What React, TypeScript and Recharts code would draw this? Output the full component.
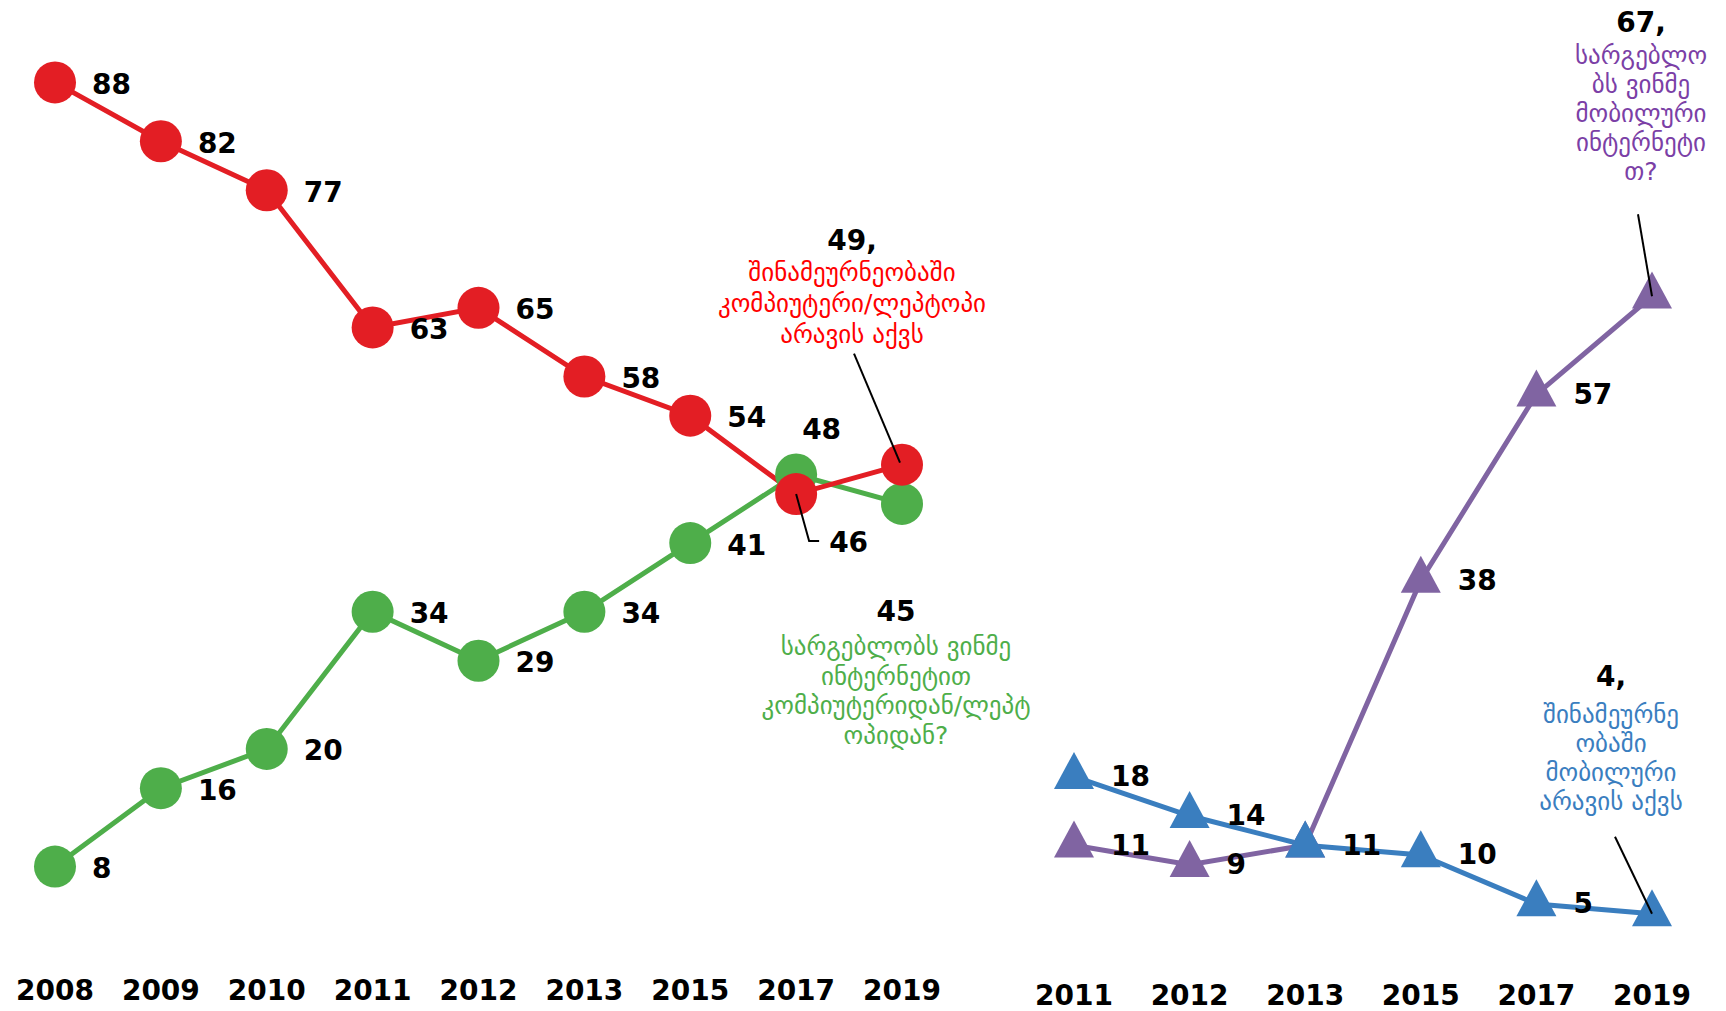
import React from 'react';
import { LineChart, Line, XAxis, YAxis, LabelList } from 'recharts';

const leftYears = ['2008', '2009', '2010', '2011', '2012', '2013', '2015', '2017', '2019'];
const noComputer = [88, 82, 77, 63, 65, 58, 54, 46, 49];
const computerInternet = [8, 16, 20, 34, 29, 34, 41, 48, 45];

const rightYears = ['2011', '2012', '2013', '2015', '2017', '2019'];
const noMobile = [18, 14, 11, 10, 5, 4];
const mobileInternet = [11, 9, 11, 38, 57, 67];

const redNote = ['შინამეურნეობაში', 'კომპიუტერი/ლეპტოპი', 'არავის აქვს'];
const greenNote = ['სარგებლობს ვინმე', 'ინტერნეტით', 'კომპიუტერიდან/ლეპტ', 'ოპიდან?'];
const purpleNote = ['სარგებლო', 'ბს ვინმე', 'მობილური', 'ინტერნეტი', 'თ?'];
const blueNote = ['შინამეურნე', 'ობაში', 'მობილური', 'არავის აქვს'];

const leftData = leftYears.map((year, i) => ({ year, red: noComputer[i], green: computerInternet[i] }));
const rightData = rightYears.map((year, i) => ({ year, blue: noMobile[i], purple: mobileInternet[i] }));

const RED = '#E31E24';
const GREEN = '#4EAE4A';
const BLUE = '#3A7EBF';
const PURPLE = '#8064A2';

const NUM_FONT = 'DejaVu Sans, sans-serif';
const GEO_FONT = 'DejaVu Sans, sans-serif';

const numStyle = { fontFamily: NUM_FONT, fontWeight: 700, fontSize: 28, fill: '#000' } as const;

const Num = ({ x, y, v, anchor = 'start' }: any) => (
  <text x={x} y={y} textAnchor={anchor} dominantBaseline="central" style={numStyle}>{v}</text>
);

const Note = ({ x, y, lines, color, step }: any) => (
  <g>
    {lines.map((t: string, i: number) => (
      <text key={i} x={x} y={y + i * step} textAnchor="middle" dominantBaseline="central"
        style={{ fontFamily: GEO_FONT, fontSize: 25, fill: color }}>{t}</text>
    ))}
  </g>
);

const circleDot = (color: string) => (p: any) => (
  <circle key={`c-${p.index}`} cx={p.cx} cy={p.cy} r={21} fill={color} />
);

const triDot = (color: string) => (p: any) => {
  const h = 37, w = 20;
  const pts = `${p.cx},${p.cy - (2 * h) / 3} ${p.cx + w},${p.cy + h / 3} ${p.cx - w},${p.cy + h / 3}`;
  return <polygon key={`t-${p.index}`} points={pts} fill={color} />;
};

const redLabel = (p: any) => {
  const { x, y, value, index } = p;
  if (index === leftYears.length - 2) {
    return (
      <g key={`rl-${index}`}>
        <polyline points={`${x},${y} ${x + 13},${y + 47} ${x + 23},${y + 47}`} fill="none" stroke="#000" strokeWidth={2} />
        <Num x={x + 33} y={y + 48} v={value} />
      </g>
    );
  }
  if (index === leftYears.length - 1) {
    return (
      <g key={`rl-${index}`}>
        <line x1={x - 48} y1={y - 111} x2={x - 2} y2={y - 2} stroke="#000" strokeWidth={2} />
        <Num x={x - 50} y={y - 224} v={`${value},`} anchor="middle" />
        <Note x={x - 50} y={y - 192} lines={redNote} color="#FF0000" step={31} />
      </g>
    );
  }
  return <Num key={`rl-${index}`} x={x + 37} y={y + 2} v={value} />;
};

const greenLabel = (p: any) => {
  const { x, y, value, index } = p;
  if (index === leftYears.length - 2) {
    return <Num key={`gl-${index}`} x={x + 6} y={y - 45} v={value} />;
  }
  if (index === leftYears.length - 1) {
    return (
      <g key={`gl-${index}`}>
        <Num x={x - 6} y={y + 108} v={value} anchor="middle" />
        <Note x={x - 6} y={y + 143} lines={greenNote} color={GREEN} step={29.5} />
      </g>
    );
  }
  return <Num key={`gl-${index}`} x={x + 37} y={y + 2} v={value} />;
};

const blueLabel = (p: any) => {
  const { x, y, value, index } = p;
  if (index === rightYears.length - 1) {
    return (
      <g key={`bl-${index}`}>
        <line x1={x - 37} y1={y - 77} x2={x} y2={y} stroke="#000" strokeWidth={2} />
        <Num x={x - 41} y={y - 237} v={`${value},`} anchor="middle" />
        <Note x={x - 41} y={y - 199} lines={blueNote} color={BLUE} step={29} />
      </g>
    );
  }
  return <Num key={`bl-${index}`} x={x + 37} y={y} v={value} />;
};

const purpleLabel = (p: any) => {
  const { x, y, value, index } = p;
  if (index === 2) return null;
  if (index === rightYears.length - 1) {
    return (
      <g key={`pl-${index}`}>
        <line x1={x - 14} y1={y - 82} x2={x} y2={y} stroke="#000" strokeWidth={2} />
        <Num x={x - 11} y={y - 274} v={`${value},`} anchor="middle" />
        <Note x={x - 11} y={y - 241} lines={purpleNote} color="#7B3FA6" step={29} />
      </g>
    );
  }
  return <Num key={`pl-${index}`} x={x + 37} y={y} v={value} />;
};

const yearTick = (dy: number) => (p: any) => (
  <text x={p.x} y={p.y + dy} textAnchor="middle" dominantBaseline="central" style={numStyle}>
    {p.payload.value}
  </text>
);

export default function App() {
  return (
    <div style={{ position: 'absolute', left: 0, top: 0, width: 1726, height: 1011, background: '#fff' }}>
      <div style={{ position: 'absolute', left: 0, top: 0 }}>
        <LineChart width={1060} height={1011} data={leftData} margin={{ top: 4, right: 158, bottom: 0, left: 55 }}>
          <XAxis dataKey="year" axisLine={false} tickLine={false} height={66} interval={0} tick={yearTick(37)} />
          <YAxis hide domain={[0, 96]} />
          <Line dataKey="green" stroke={GREEN} strokeWidth={5} dot={circleDot(GREEN)} isAnimationActive={false}>
            <LabelList dataKey="green" content={greenLabel} />
          </Line>
          <Line dataKey="red" stroke={RED} strokeWidth={5} dot={circleDot(RED)} isAnimationActive={false}>
            <LabelList dataKey="red" content={redLabel} />
          </Line>
        </LineChart>
      </div>
      <div style={{ position: 'absolute', left: 1000, top: 0 }}>
        <LineChart width={726} height={1011} data={rightData} margin={{ top: 12, right: 74, bottom: 0, left: 74 }}>
          <XAxis dataKey="year" axisLine={false} tickLine={false} height={58} interval={0} tick={yearTick(34)} />
          <YAxis hide domain={[0, 96]} />
          <Line dataKey="purple" stroke={PURPLE} strokeWidth={5} dot={triDot(PURPLE)} isAnimationActive={false}>
            <LabelList dataKey="purple" content={purpleLabel} />
          </Line>
          <Line dataKey="blue" stroke={BLUE} strokeWidth={5} dot={triDot(BLUE)} isAnimationActive={false}>
            <LabelList dataKey="blue" content={blueLabel} />
          </Line>
        </LineChart>
      </div>
    </div>
  );
}
